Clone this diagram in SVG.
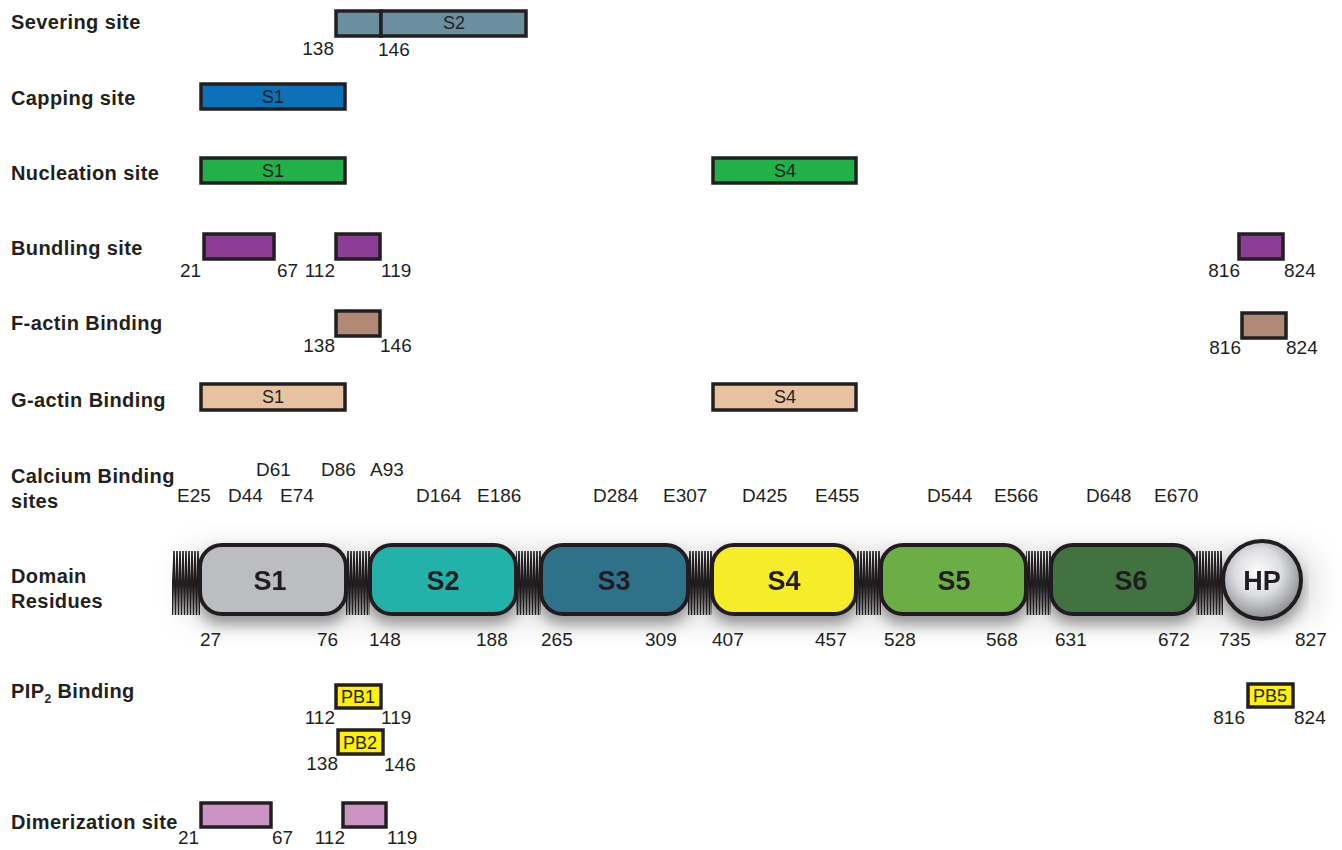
<svg xmlns="http://www.w3.org/2000/svg" width="1342" height="850" viewBox="0 0 1342 850">
<style>
.lbl{font-family:"Liberation Sans",Arial,sans-serif;font-weight:bold;font-size:20px;letter-spacing:0.4px;fill:#231f20}
.num{font-family:"Liberation Sans",Arial,sans-serif;font-size:19px;fill:#231f20}
.bt{font-family:"Liberation Sans",Arial,sans-serif;font-size:18px;fill:#231f20;text-anchor:middle}
.dt{font-family:"Liberation Sans",Arial,sans-serif;font-weight:bold;font-size:27px;fill:#231f20;text-anchor:middle}
.box{stroke:#231f20;stroke-width:3.5}
.dom{stroke:#231f20;stroke-width:4}
.sev{fill:#6a8fa0}.cap{fill:#0b72b9}.nuc{fill:#22b04b}.bun{fill:#8c3d96}.fac{fill:#b08a74}.gac{fill:#e8c19f}.pb{fill:#fff200}.dim{fill:#cc94c5}
.e{text-anchor:end}
</style>
<defs>
<pattern id="zig" patternUnits="userSpaceOnUse" x="0" y="551" width="3" height="64">
<path d="M0,0 L1.5,64 L3,0" fill="none" stroke="#231f20" stroke-width="1.6"/>
</pattern>
<radialGradient id="hpg" cx="0.45" cy="0.4" r="0.6">
<stop offset="0" stop-color="#ffffff"/>
<stop offset="0.5" stop-color="#dcdde0"/>
<stop offset="1" stop-color="#8b8d91"/>
</radialGradient>
<filter id="sh" x="-10%" y="-60%" width="120%" height="220%">
<feDropShadow dx="0" dy="9" stdDeviation="7" flood-color="#000" flood-opacity="0.35"/>
</filter>
<filter id="blur" x="-20%" y="-100%" width="140%" height="300%">
<feGaussianBlur stdDeviation="18"/>
</filter>
</defs>
<rect width="1342" height="850" fill="#fff"/>

<g id="row-labels">
<text class="lbl" x="11" y="29">Severing site</text>
<text class="lbl" x="11" y="105">Capping site</text>
<text class="lbl" x="11" y="180">Nucleation site</text>
<text class="lbl" x="11" y="255">Bundling site</text>
<text class="lbl" x="11" y="330">F-actin Binding</text>
<text class="lbl" x="11" y="407">G-actin Binding</text>
<text class="lbl" x="11" y="483">Calcium Binding</text>
<text class="lbl" x="11" y="508">sites</text>
<text class="lbl" x="11" y="583">Domain</text>
<text class="lbl" x="11" y="608">Residues</text>
<text class="lbl" x="11" y="698">PIP<tspan font-size="12" dy="5">2</tspan><tspan dy="-5"> Binding</tspan></text>
<text class="lbl" x="11" y="829">Dimerization site</text>
</g>

<g id="severing">
<rect class="box sev" x="336" y="11" width="45" height="25"/>
<rect class="box sev" x="381" y="11" width="145" height="25"/>
<text class="bt" x="454" y="29">S2</text>
<text class="num e" x="334" y="55">138</text>
<text class="num" x="378" y="56">146</text>
</g>

<g id="capping">
<rect class="box cap" x="201" y="84" width="144" height="25"/>
<text class="bt" x="273" y="103">S1</text>
</g>

<g id="nucleation">
<rect class="box nuc" x="201" y="158" width="144" height="25"/>
<text class="bt" x="273" y="177">S1</text>
<rect class="box nuc" x="713" y="158" width="143" height="25"/>
<text class="bt" x="785" y="177">S4</text>
</g>

<g id="bundling">
<rect class="box bun" x="204" y="234" width="70" height="25"/>
<rect class="box bun" x="336" y="234" width="44" height="25"/>
<rect class="box bun" x="1239" y="234" width="44" height="25"/>
<text class="num" x="180" y="277">21</text>
<text class="num" x="277" y="277">67</text>
<text class="num e" x="335" y="277">112</text>
<text class="num" x="381" y="277">119</text>
<text class="num e" x="1240" y="277">816</text>
<text class="num" x="1284" y="277">824</text>
</g>

<g id="factin">
<rect class="box fac" x="336" y="311" width="44" height="25"/>
<rect class="box fac" x="1242" y="313" width="44" height="25"/>
<text class="num e" x="335" y="352">138</text>
<text class="num" x="380" y="352">146</text>
<text class="num e" x="1241" y="354">816</text>
<text class="num" x="1286" y="354">824</text>
</g>

<g id="gactin">
<rect class="box gac" x="201" y="384" width="144" height="26"/>
<text class="bt" x="273" y="403">S1</text>
<rect class="box gac" x="713" y="384" width="143" height="26"/>
<text class="bt" x="785" y="403">S4</text>
</g>

<g id="calcium">
<text class="num" x="256" y="476">D61</text>
<text class="num" x="321" y="476">D86</text>
<text class="num" x="370" y="476">A93</text>
<text class="num" x="177" y="502">E25</text>
<text class="num" x="228" y="502">D44</text>
<text class="num" x="280" y="502">E74</text>
<text class="num" x="416" y="502">D164</text>
<text class="num" x="477" y="502">E186</text>
<text class="num" x="593" y="502">D284</text>
<text class="num" x="663" y="502">E307</text>
<text class="num" x="742" y="502">D425</text>
<text class="num" x="815" y="502">E455</text>
<text class="num" x="927" y="502">D544</text>
<text class="num" x="994" y="502">E566</text>
<text class="num" x="1086" y="502">D648</text>
<text class="num" x="1154" y="502">E670</text>
</g>

<g id="domains">
<rect x="190" y="555" width="1120" height="60" fill="#000" opacity="0.18" filter="url(#blur)"/>
<g id="linkers">
<rect x="172" y="551" width="28" height="64" fill="url(#zig)"/>
<rect x="346" y="551" width="24" height="64" fill="url(#zig)"/>
<rect x="516" y="551" width="25" height="64" fill="url(#zig)"/>
<rect x="688" y="551" width="24" height="64" fill="url(#zig)"/>
<rect x="856" y="551" width="25" height="64" fill="url(#zig)"/>
<rect x="1026" y="551" width="25" height="64" fill="url(#zig)"/>
<rect x="1196" y="551" width="27" height="64" fill="url(#zig)"/>
</g>
<g id="dS1" filter="url(#sh)"><rect class="dom" x="200" y="545" width="146" height="69" rx="22" fill="#bcbdc1"/><text class="dt" x="270" y="590">S1</text></g>
<g id="dS2" filter="url(#sh)"><rect class="dom" x="370" y="545" width="146" height="69" rx="22" fill="#22b2a9"/><text class="dt" x="443" y="590">S2</text></g>
<g id="dS3" filter="url(#sh)"><rect class="dom" x="541" y="545" width="147" height="69" rx="22" fill="#2e7189"/><text class="dt" x="614" y="590">S3</text></g>
<g id="dS4" filter="url(#sh)"><rect class="dom" x="712" y="545" width="144" height="69" rx="22" fill="#f7ec2b"/><text class="dt" x="784" y="590">S4</text></g>
<g id="dS5" filter="url(#sh)"><rect class="dom" x="881" y="545" width="145" height="69" rx="22" fill="#6bae44"/><text class="dt" x="954" y="590">S5</text></g>
<g id="dS6" filter="url(#sh)"><rect class="dom" x="1051" y="545" width="145" height="69" rx="22" fill="#3f7340"/><text class="dt" x="1131" y="590">S6</text></g>
<g id="dHP" filter="url(#sh)"><circle class="dom" cx="1262" cy="580" r="39" fill="url(#hpg)" stroke="#1c2b33"/><text class="dt" x="1262" y="590">HP</text></g>
<g id="residues">
<text class="num" x="200" y="646">27</text>
<text class="num" x="317" y="646">76</text>
<text class="num" x="369" y="646">148</text>
<text class="num" x="476" y="646">188</text>
<text class="num" x="541" y="646">265</text>
<text class="num" x="645" y="646">309</text>
<text class="num" x="712" y="646">407</text>
<text class="num" x="815" y="646">457</text>
<text class="num" x="884" y="646">528</text>
<text class="num" x="986" y="646">568</text>
<text class="num" x="1055" y="646">631</text>
<text class="num" x="1158" y="646">672</text>
<text class="num" x="1219" y="646">735</text>
<text class="num" x="1295" y="646">827</text>
</g>
</g>

<g id="pip2">
<rect class="box pb" x="336" y="685" width="45" height="23"/>
<text class="bt" x="358" y="703">PB1</text>
<text class="num e" x="335" y="724">112</text>
<text class="num" x="381" y="724">119</text>
<rect class="box pb" x="338" y="730" width="45" height="24"/>
<text class="bt" x="360" y="749">PB2</text>
<text class="num e" x="338" y="770">138</text>
<text class="num" x="384" y="771">146</text>
<rect class="box pb" x="1248" y="684" width="45" height="23"/>
<text class="bt" x="1270" y="702">PB5</text>
<text class="num e" x="1245" y="724">816</text>
<text class="num" x="1294" y="724">824</text>
</g>

<g id="dimerization">
<rect class="box dim" x="201" y="803" width="70" height="24"/>
<rect class="box dim" x="343" y="803" width="43" height="24"/>
<text class="num" x="178" y="844">21</text>
<text class="num" x="272" y="844">67</text>
<text class="num e" x="345" y="844">112</text>
<text class="num" x="387" y="844">119</text>
</g>
</svg>
